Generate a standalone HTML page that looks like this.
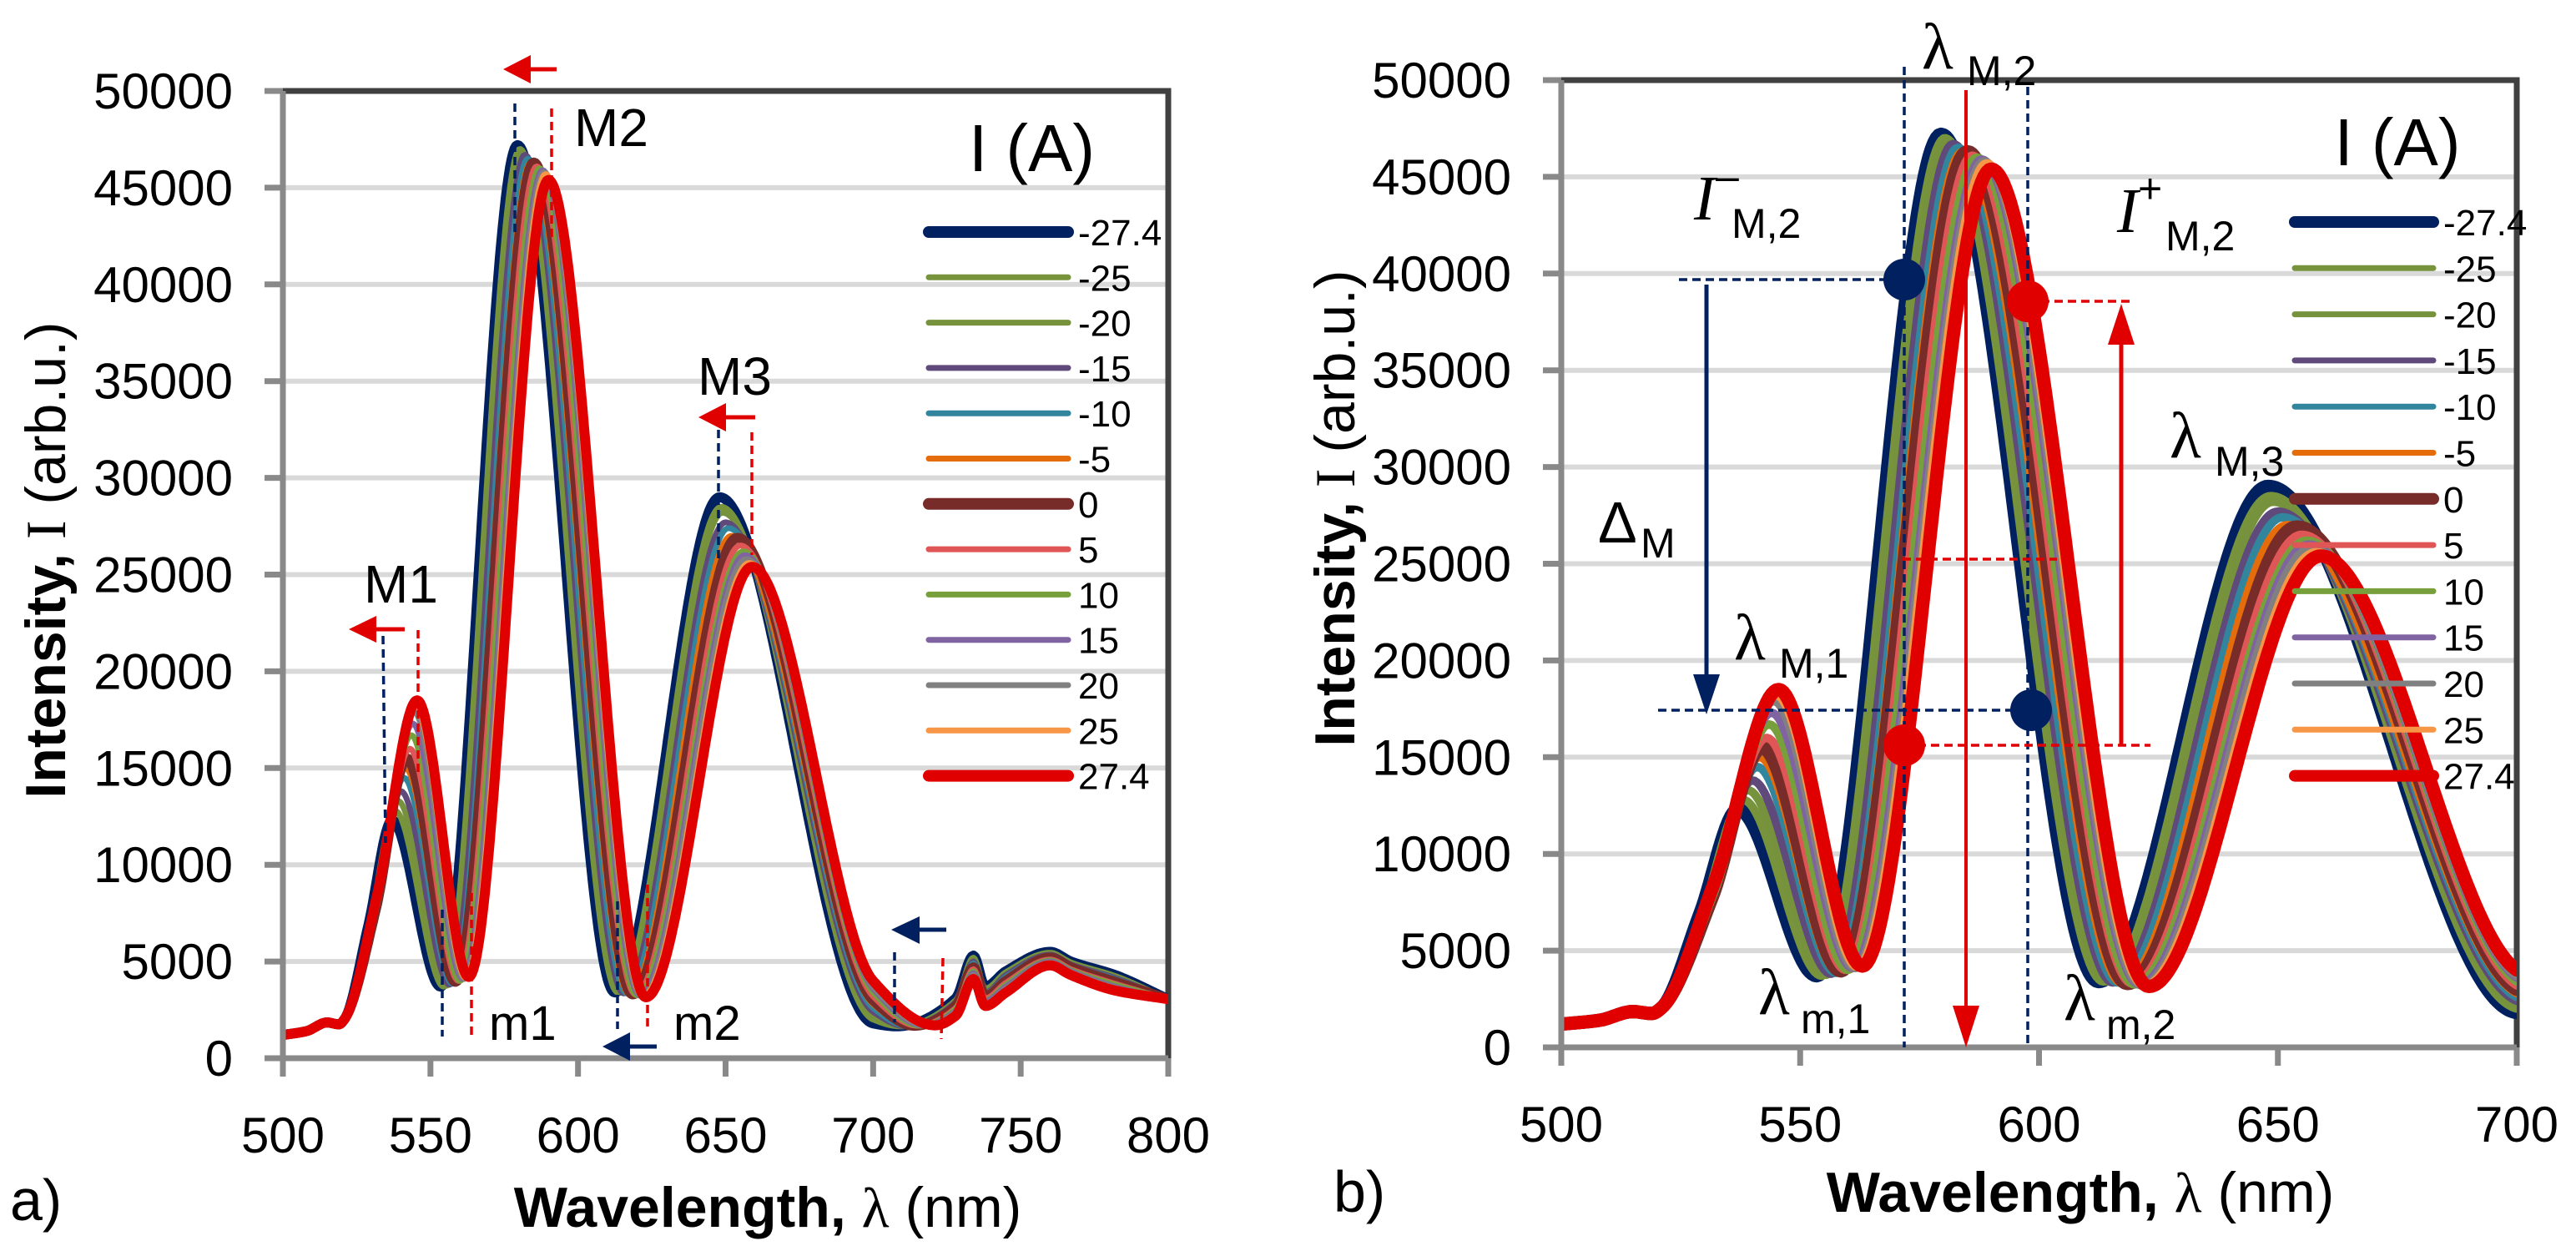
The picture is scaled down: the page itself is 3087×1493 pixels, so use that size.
<!DOCTYPE html>
<html><head><meta charset="utf-8">
<style>
html,body{margin:0;padding:0;background:#fff;}
svg{display:block;font-family:"Liberation Sans",sans-serif;}
</style></head>
<body>
<svg id="fig" width="3087" height="1493" viewBox="0 0 3087 1493" xmlns="http://www.w3.org/2000/svg">
<defs>
<clipPath id="clipA"><rect x="339" y="109" width="1061" height="1159"/></clipPath>
<clipPath id="clipB"><rect x="1871" y="96" width="1145" height="1159"/></clipPath>
</defs>
<g id="chartA"></g>
<g id="chartB"></g>
</svg>
<script>
// ---------- data ----------
const currents = ["-27.4","-25","-20","-15","-10","-5","0","5","10","15","20","25","27.4"];
const colors = ["#002060","#77933c","#76923c","#604a7b","#31859c","#e46c0a","#772c2a","#e05555","#77a03c","#8064a2","#808080","#f79646","#e00000"];
const thick = [1,0,0,0,0,0,1,0,0,0,0,0,1];
const riseWl = [529,529.5,530,530.5,531,531,531.5,531.5,532,532,532,532,532];
const riseI = [6900,7000,7100,7200,7400,7500,7700,7800,8000,8100,8300,8400,8500];
const peak1Wl = [537,538,539,540,541,541.5,542,543,543.5,544,544.5,545,545.5];
const peak1I = [12300,12800,13300,13800,14500,15000,15500,16000,16700,17300,17900,18200,18500];
const min1Wl = [553.5,554.5,555.5,556.5,557.5,558,558.5,559.5,560,561,561.5,562,563];
const min1I = [3700,3700,3750,3800,3850,3900,3950,4000,4000,4100,4100,4150,4200];
const peak2Wl = [579.5,580.3,581,582,583,584,585,586,587,588,588.5,589,590];
const peak2I = [47200,47000,46800,46700,46500,46300,46300,46100,46000,45900,45800,45700,45400];
const min2Wl = [612.5,613.5,614.5,615.5,616.5,617.5,618.5,619.5,620,621,621.5,622,623];
const min2I = [3400,3400,3400,3350,3350,3300,3300,3300,3250,3250,3200,3200,3150];
const peak3Wl = [648,648.5,649,650,651,652,654,655,656,656.5,657,658,659];
const peak3I = [29000,28500,28200,27700,27400,27000,26900,26500,26200,26000,25800,25600,25400];
const at700I = [1800,2000,2200,2400,2600,2800,3000,3200,3400,3600,3700,3900,4000];
const tailMinWl = [708,709,710,711,712,713,714,715,716,717,718,719,721];
const tailMinI = [1650,1650,1650,1650,1650,1680,1680,1680,1680,1700,1700,1700,1700];
const tailWl = [728,734,738,745,760,767,782,800];
const tailI = [
 [3100,5300,3700,4500,5500,5000,4300,3050],
 [3000,5200,3600,4450,5450,4950,4250,3050],
 [2950,5100,3500,4400,5400,4900,4200,3050],
 [2900,5000,3400,4300,5350,4850,4150,3050],
 [2800,4900,3350,4200,5300,4800,4100,3050],
 [2750,4800,3300,4100,5250,4750,4000,3050],
 [2700,4700,3200,4000,5200,4700,3950,3050],
 [2600,4600,3100,3900,5100,4600,3850,3050],
 [2550,4500,3000,3800,5050,4550,3800,3050],
 [2450,4400,2950,3700,5000,4500,3700,3050],
 [2400,4300,2850,3600,4950,4450,3650,3050],
 [2300,4200,2800,3500,4900,4350,3550,3050],
 [2200,4100,2700,3400,4800,4300,3500,3050]
];
const startWl = [500,508,515,519,521];
const startI = [1200,1400,1850,1750,2050];
const yTicks = [0,5000,10000,15000,20000,25000,30000,35000,40000,45000,50000];
const xTicksA = [500,550,600,650,700,750,800];
const xTicksB = [500,550,600,650,700];

// ---------- helpers ----------
const NS="http://www.w3.org/2000/svg";
function mk(tag, attrs, parent){const e=document.createElementNS(NS,tag);for(const k in attrs)e.setAttribute(k,attrs[k]);parent.appendChild(e);return e;}
function monotone(xs, ys){
  const n=xs.length, d=[], m=new Array(n);
  for(let i=0;i<n-1;i++) d.push((ys[i+1]-ys[i])/(xs[i+1]-xs[i]));
  m[0]=d[0]; m[n-1]=d[n-2];
  for(let i=1;i<n-1;i++){
    if(d[i-1]*d[i]<=0) m[i]=0;
    else { const h0=xs[i]-xs[i-1], h1=xs[i+1]-xs[i]; const w1=2*h1+h0, w2=h1+2*h0; m[i]=(w1+w2)/(w1/d[i-1]+w2/d[i]); }
  }
  return function(x){
    let i=0; while(i<n-2 && x>xs[i+1]) i++;
    const h=xs[i+1]-xs[i], t=(x-xs[i])/h, t2=t*t, t3=t2*t;
    return (2*t3-3*t2+1)*ys[i]+(t3-2*t2+t)*h*m[i]+(-2*t3+3*t2)*ys[i+1]+(t3-t2)*h*m[i+1];
  };
}
function knots(s){
  const xs=[...startWl], ys=[...startI];
  xs.push(riseWl[s],peak1Wl[s],min1Wl[s],peak2Wl[s],min2Wl[s],peak3Wl[s],700,tailMinWl[s]);
  ys.push(riseI[s],peak1I[s],min1I[s],peak2I[s],min2I[s],peak3I[s],at700I[s],tailMinI[s]);
  tailWl.forEach((w,k)=>{xs.push(w);ys.push(tailI[s][k]);});
  return [xs,ys];
}

function drawChart(gid, cfg){
  const g=document.getElementById(gid);
  const sx=v=>cfg.x0+(v-cfg.xmin)/(cfg.xmax-cfg.xmin)*(cfg.x1-cfg.x0);
  const sy=v=>cfg.y1-v/50000*(cfg.y1-cfg.y0);
  yTicks.forEach(t=>{ if(t===0) return;
    const l=mk('line',{x1:cfg.x0,x2:cfg.x1,y1:sy(t),y2:sy(t),stroke:'#d9d9d9','stroke-width':6},g);
    
    
  });
  const fr=mk('path',{d:`M${cfg.x0} ${cfg.y0} H${cfg.x1} V${cfg.y1}`,fill:'none',stroke:'#404040','stroke-width':7},g);
  
  
  const sg=mk('g',{'clip-path':`url(#${cfg.clip})`},g);
  
  
  currents.forEach((c,s)=>{
    const [xs,ys]=knots(s); const f=monotone(xs,ys);
    let d='';
    for(let w=cfg.xmin; w<=cfg.xmax+0.01; w+=0.5){ d+=(d?'L':'M')+sx(w).toFixed(1)+' '+sy(f(w)).toFixed(1); }
    const p=mk('path',{d:d,fill:'none',stroke:colors[s],'stroke-width':thick[s]?cfg.lwT:cfg.lw,'stroke-linejoin':'round','stroke-linecap':'round'},sg);
    
    
  });
  const ax=mk('path',{d:`M${cfg.x0} ${cfg.y0} V${cfg.y1} H${cfg.x1}`,fill:'none',stroke:'#898989','stroke-width':7},g);
  
  
  yTicks.forEach(t=>{
    const tk=mk('line',{x1:cfg.x0-22,x2:cfg.x0,y1:sy(t),y2:sy(t),stroke:'#898989','stroke-width':7},g);
    
    
    const tx=mk('text',{x:cfg.x0-60,y:sy(t)+21,'font-size':60,'text-anchor':'end',fill:'#000'},g);
    tx.textContent=t;
    
    
  });
  cfg.xticks.forEach(t=>{
    const tk=mk('line',{x1:sx(t),x2:sx(t),y1:cfg.y1,y2:cfg.y1+22,stroke:'#898989','stroke-width':7},g);
    
    
    const tx=mk('text',{x:sx(t),y:cfg.y1+113,'font-size':60,'text-anchor':'middle',fill:'#000'},g);
    tx.textContent=t;
    
    
  });
  const lt=mk('text',{x:cfg.legX+(cfg.legX1-cfg.legX)/2+40,y:cfg.legTitleY,'font-size':80,'text-anchor':'middle'},g);
  lt.textContent='I (A)';
  
  
  currents.forEach((c,s)=>{
    const y=cfg.legY+s*cfg.legDy;
    const l=mk('line',{x1:cfg.legX,x2:cfg.legX1,y1:y,y2:y,stroke:colors[s],'stroke-width':thick[s]?14:7,'stroke-linecap':'round'},g);
    
    
    const t=mk('text',{x:cfg.legX1+12,y:y+16,'font-size':44},g);
    t.textContent=c;
    
    
  });
}

drawChart('chartA',{xmin:500,xmax:800,x0:339,x1:1400,y0:109,y1:1268,clip:'clipA',lw:7,lwT:12,xticks:xTicksA,
  legX:1113,legX1:1280,legY:278,legDy:54.3,legTitleY:205});
drawChart('chartB',{xmin:500,xmax:700,x0:1871,x1:3016,y0:96,y1:1255,clip:'clipB',lw:10,lwT:16,xticks:xTicksB,
  legX:2750,legX1:2916,legY:266,legDy:55.3,legTitleY:198});
</script>

<svg style="position:absolute;left:0;top:0" width="3087" height="1493" viewBox="0 0 3087 1493" xmlns="http://www.w3.org/2000/svg">
<g font-family="Liberation Sans, sans-serif" fill="#000">
<text transform="translate(78,671) rotate(-90)" text-anchor="middle" font-size="68"><tspan font-weight="bold">Intensity,</tspan><tspan font-family="Liberation Serif, serif"> I</tspan> (arb.u.)</text>
<text x="920" y="1470" text-anchor="middle" font-size="68"><tspan font-weight="bold">Wavelength,</tspan> <tspan font-family="Liberation Serif, serif">λ</tspan> (nm)</text>
<text x="12" y="1462" font-size="70">a)</text>
<text transform="translate(1623,609) rotate(-90)" text-anchor="middle" font-size="68"><tspan font-weight="bold">Intensity,</tspan><tspan font-family="Liberation Serif, serif"> I</tspan> (arb.u.)</text>
<text x="2493" y="1452" text-anchor="middle" font-size="68"><tspan font-weight="bold">Wavelength,</tspan> <tspan font-family="Liberation Serif, serif">λ</tspan> (nm)</text>
<text x="1598" y="1452" font-size="70">b)</text>

<g font-size="64">
<text x="436" y="722">M1</text>
<text x="688" y="175">M2</text>
<text x="836" y="473">M3</text>
<text x="586" y="1246" font-size="58">m1</text>
<text x="807" y="1246" font-size="58">m2</text>
</g>
<g stroke-width="3.5" stroke-dasharray="10,6" fill="none">
<line x1="459" y1="762" x2="462" y2="1010" stroke="#002060"/>
<line x1="501" y1="755" x2="501" y2="930" stroke="#e00000"/>
<line x1="617" y1="124" x2="617" y2="278" stroke="#002060"/>
<line x1="661" y1="130" x2="661" y2="285" stroke="#e00000"/>
<line x1="861" y1="515" x2="861" y2="670" stroke="#002060"/>
<line x1="901" y1="518" x2="901" y2="665" stroke="#e00000"/>
<line x1="530" y1="1090" x2="530" y2="1242" stroke="#002060"/>
<line x1="565" y1="1070" x2="565" y2="1243" stroke="#e00000"/>
<line x1="740" y1="1080" x2="740" y2="1233" stroke="#002060"/>
<line x1="776" y1="1060" x2="776" y2="1233" stroke="#e00000"/>
<line x1="1072" y1="1141" x2="1072" y2="1225" stroke="#002060"/>
<line x1="1130" y1="1148" x2="1128" y2="1245" stroke="#e00000"/>
</g>
<g>
<line x1="448" y1="754" x2="485" y2="754" stroke="#e00000" stroke-width="5"/><polygon points="418,754 451,738 451,770" fill="#e00000"/>
<line x1="633" y1="83" x2="667" y2="83" stroke="#e00000" stroke-width="5"/><polygon points="603,83 636,66 636,100" fill="#e00000"/>
<line x1="870" y1="500" x2="905" y2="500" stroke="#e00000" stroke-width="5"/><polygon points="837,500 870,483 870,517" fill="#e00000"/>
<line x1="755" y1="1254" x2="787" y2="1254" stroke="#002060" stroke-width="5"/><polygon points="722,1254 755,1237 755,1271" fill="#002060"/>
<line x1="1102" y1="1114" x2="1134" y2="1114" stroke="#002060" stroke-width="5"/><polygon points="1068,1114 1102,1098 1102,1131" fill="#002060"/>
</g>

<g stroke-width="3.5" stroke-dasharray="10,6" fill="none">
<line x1="2282" y1="80" x2="2282" y2="1255" stroke="#002060"/>
<line x1="2430" y1="104" x2="2430" y2="1255" stroke="#002060"/>
<line x1="2012" y1="335" x2="2280" y2="335" stroke="#002060"/>
<line x1="1987" y1="851" x2="2430" y2="851" stroke="#002060"/>
<line x1="2430" y1="361" x2="2556" y2="361" stroke="#e00000"/>
<line x1="2282" y1="893" x2="2577" y2="893" stroke="#e00000"/>
<line x1="2280" y1="670" x2="2465" y2="670" stroke="#e00000"/>
</g>
<g>
<line x1="2356" y1="108" x2="2356" y2="1210" stroke="#e00000" stroke-width="4"/>
<polygon points="2356,1255 2340,1205 2372,1205" fill="#e00000"/>
<line x1="2045" y1="341" x2="2045" y2="810" stroke="#002060" stroke-width="5"/>
<polygon points="2045,856 2029,808 2061,808" fill="#002060"/>
<line x1="2542" y1="410" x2="2542" y2="893" stroke="#e00000" stroke-width="5"/>
<polygon points="2542,364 2526,413 2558,413" fill="#e00000"/>
</g>
<g>
<circle cx="2282" cy="335" r="25" fill="#002060"/>
<circle cx="2430" cy="361" r="25" fill="#e00000"/>
<circle cx="2282" cy="893" r="25" fill="#e00000"/>
<circle cx="2434" cy="851" r="25" fill="#002060"/>
</g>
<g>
<text x="2303" y="82" font-size="78" font-family="Liberation Serif, serif">λ</text><text x="2357" y="102" font-size="50">M,2</text>
<text x="2030" y="263" font-size="76" font-style="italic" font-family="Liberation Serif, serif">I</text><text x="2056" y="228" font-size="50">–</text><text x="2075" y="285" font-size="50">M,2</text>
<text x="2537" y="278" font-size="76" font-style="italic" font-family="Liberation Serif, serif">I</text><text x="2562" y="243" font-size="50">+</text><text x="2595" y="300" font-size="50">M,2</text>
<text x="1915" y="650" font-size="70">Δ</text><text x="1966" y="668" font-size="50">M</text>
<text x="2078" y="790" font-size="78" font-family="Liberation Serif, serif">λ</text><text x="2132" y="812" font-size="50">M,1</text>
<text x="2600" y="548" font-size="78" font-family="Liberation Serif, serif">λ</text><text x="2654" y="570" font-size="50">M,3</text>
<text x="2107" y="1215" font-size="78" font-family="Liberation Serif, serif">λ</text><text x="2158" y="1238" font-size="50">m,1</text>
<text x="2473" y="1222" font-size="78" font-family="Liberation Serif, serif">λ</text><text x="2524" y="1245" font-size="50">m,2</text>
</g>
</g>
</svg>
</body></html>
